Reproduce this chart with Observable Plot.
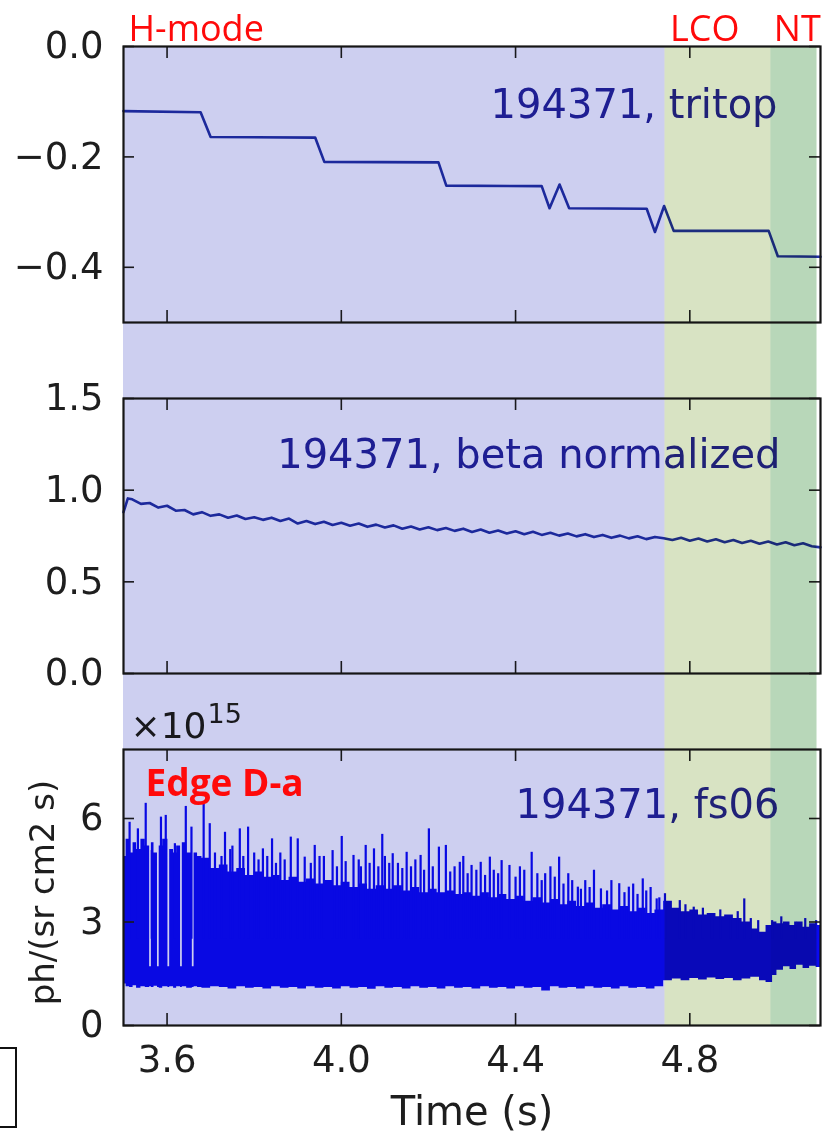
<!DOCTYPE html>
<html>
<head>
<meta charset="utf-8">
<script src="https://cdn.jsdelivr.net/npm/d3@7"></script>
<script src="https://cdn.jsdelivr.net/npm/@observablehq/plot@0.6"></script>
<style>
  html, body { margin: 0; padding: 0; background: #fff; overflow: hidden; }
  #chart { position: relative; width: 826px; height: 1135px; overflow: hidden; }
  #chart svg { position: absolute; left: 0; }
  #box { position: absolute; left: -2px; top: 1047px; width: 15px; height: 77px; border: 2px solid #111; }
</style>
</head>
<body>
<div id="chart"><div id="box"></div></div>
<script>
// ---------------- data ----------------
const xDomain = [3.5, 5.1];
const xTicks = [3.6, 4.0, 4.4, 4.8];

const regionNames = ["H-mode", "LCO", "NT"];
const regionStart = [3.5, 4.743, 4.986];
const regionEnd = [4.743, 4.986, 5.092];
const regionColors = ["#cdcff0", "#d8e3c3", "#b8d7b9"];

// panel 1: tritop
const tritopTicks = [0, -0.2, -0.4];
const tritopTime  = [3.50, 3.677, 3.700, 3.940, 3.961, 4.223, 4.241, 4.460, 4.478, 4.501, 4.523, 4.701, 4.720, 4.741, 4.763, 4.981, 5.002, 5.100];
const tritopValue = [-0.117, -0.119, -0.164, -0.165, -0.209, -0.210, -0.252, -0.253, -0.293, -0.250, -0.293, -0.294, -0.336, -0.289, -0.334, -0.334, -0.380, -0.381];

// panel 2: beta normalized
const betaTicks = [0, 0.5, 1.0, 1.5];
const betaTime = [3.50, 3.51, 3.52, 3.54, 3.56, 3.58, 3.60, 3.62, 3.64, 3.66, 3.68, 3.70, 3.72, 3.74, 3.76, 3.78, 3.80, 3.82, 3.84, 3.86, 3.88, 3.90, 3.92, 3.94, 3.96, 3.98, 4.00, 4.02, 4.04, 4.06, 4.08, 4.10, 4.12, 4.14, 4.16, 4.18, 4.20, 4.22, 4.24, 4.26, 4.28, 4.30, 4.32, 4.34, 4.36, 4.38, 4.40, 4.42, 4.44, 4.46, 4.48, 4.50, 4.52, 4.54, 4.56, 4.58, 4.60, 4.62, 4.64, 4.66, 4.68, 4.70, 4.72, 4.74, 4.76, 4.78, 4.80, 4.82, 4.84, 4.86, 4.88, 4.90, 4.92, 4.94, 4.96, 4.98, 5.00, 5.02, 5.04, 5.06, 5.08, 5.10];
const betaValue = [0.880, 0.955, 0.950, 0.925, 0.930, 0.905, 0.915, 0.888, 0.892, 0.868, 0.880, 0.860, 0.868, 0.850, 0.862, 0.843, 0.852, 0.838, 0.850, 0.832, 0.845, 0.818, 0.832, 0.815, 0.828, 0.810, 0.822, 0.806, 0.818, 0.800, 0.812, 0.796, 0.808, 0.790, 0.802, 0.786, 0.798, 0.782, 0.794, 0.778, 0.790, 0.772, 0.785, 0.768, 0.780, 0.764, 0.776, 0.760, 0.773, 0.756, 0.768, 0.752, 0.764, 0.748, 0.760, 0.744, 0.756, 0.740, 0.752, 0.737, 0.749, 0.733, 0.745, 0.738, 0.728, 0.740, 0.724, 0.736, 0.720, 0.732, 0.716, 0.728, 0.712, 0.724, 0.708, 0.720, 0.704, 0.716, 0.700, 0.710, 0.694, 0.688];

// panel 3: fs06 (units of 1e15), dense band + spikes
const fsTicks = [0, 3, 6];
const fsTime = [3.500, 3.506, 3.514, 3.522, 3.530, 3.540, 3.550, 3.560, 3.564, 3.570, 3.578, 3.582, 3.590, 3.602, 3.606, 3.615, 3.622, 3.631, 3.635, 3.645, 3.658, 3.662, 3.670, 3.680, 3.700, 3.720, 3.740, 3.760, 3.780, 3.800, 3.820, 3.840, 3.860, 3.880, 3.900, 3.920, 3.940, 3.960, 3.980, 4.000, 4.020, 4.040, 4.060, 4.080, 4.100, 4.120, 4.140, 4.160, 4.180, 4.200, 4.220, 4.240, 4.260, 4.280, 4.300, 4.320, 4.340, 4.360, 4.380, 4.400, 4.420, 4.440, 4.460, 4.480, 4.500, 4.520, 4.540, 4.560, 4.580, 4.600, 4.620, 4.640, 4.660, 4.680, 4.700, 4.720, 4.740, 4.760, 4.780, 4.800, 4.820, 4.840, 4.860, 4.880, 4.900, 4.920, 4.940, 4.960, 4.975, 4.990, 5.000, 5.015, 5.030, 5.045, 5.060, 5.075, 5.090, 5.100];
const fsLow  = [1.20, 1.12, 1.10, 1.15, 1.08, 1.12, 1.10, 1.12, 1.10, 1.14, 1.10, 1.08, 1.12, 1.10, 1.12, 1.08, 1.12, 1.10, 1.12, 1.08, 1.10, 1.12, 1.10, 1.08, 1.12, 1.10, 1.06, 1.12, 1.08, 1.10, 1.06, 1.12, 1.08, 1.10, 1.06, 1.12, 1.08, 1.10, 1.06, 1.12, 1.08, 1.10, 1.05, 1.12, 1.08, 1.10, 1.06, 1.12, 1.08, 1.10, 1.06, 1.12, 1.08, 1.10, 1.06, 1.12, 1.08, 1.10, 1.06, 1.12, 1.08, 1.10, 1.00, 1.12, 1.08, 1.10, 1.06, 1.12, 1.08, 1.10, 1.06, 1.12, 1.08, 1.10, 1.06, 1.12, 1.30, 1.35, 1.30, 1.36, 1.32, 1.38, 1.33, 1.36, 1.30, 1.35, 1.40, 1.30, 1.25, 1.45, 1.60, 1.70, 1.62, 1.75, 1.65, 1.72, 1.68, 1.68];
const fsHigh = [4.90, 5.40, 5.00, 5.30, 5.10, 5.40, 5.20, 1.70, 5.30, 5.00, 1.70, 5.20, 5.40, 1.70, 5.10, 5.00, 5.20, 1.70, 5.30, 5.00, 1.70, 5.00, 4.90, 4.85, 4.55, 4.65, 4.45, 4.55, 4.35, 4.45, 4.30, 4.35, 4.20, 4.30, 4.15, 4.25, 4.10, 4.20, 4.05, 4.15, 4.00, 4.10, 3.95, 4.05, 3.95, 4.05, 3.90, 4.00, 3.85, 3.95, 3.85, 3.90, 3.80, 3.85, 3.75, 3.85, 3.70, 3.80, 3.65, 3.75, 3.60, 3.70, 3.55, 3.65, 3.50, 3.60, 3.45, 3.55, 3.40, 3.50, 3.35, 3.45, 3.30, 3.40, 3.25, 3.35, 3.60, 3.40, 3.30, 3.35, 3.20, 3.25, 3.15, 3.20, 3.10, 3.00, 2.80, 2.70, 2.90, 3.00, 2.95, 3.00, 2.90, 3.00, 2.85, 2.95, 2.90, 2.90];
const spikeTime = [3.514, 3.533, 3.551, 3.565, 3.586, 3.597, 3.618, 3.643, 3.656, 3.684, 3.698, 3.733, 3.750, 3.767, 3.786, 3.800, 3.820, 3.841, 3.860, 3.884, 3.900, 3.916, 3.939, 3.960, 3.980, 4.001, 4.028, 4.040, 4.056, 4.075, 4.094, 4.100, 4.118, 4.130, 4.150, 4.170, 4.182, 4.201, 4.224, 4.240, 4.260, 4.272, 4.280, 4.299, 4.320, 4.341, 4.350, 4.368, 4.386, 4.410, 4.437, 4.450, 4.468, 4.480, 4.500, 4.521, 4.543, 4.560, 4.580, 4.596, 4.620, 4.638, 4.660, 4.670, 4.692, 4.710, 4.724, 4.743, 4.777, 4.809, 4.851, 4.894, 4.925, 4.957, 4.989, 5.042, 5.090,
  3.710, 3.725, 3.745, 3.775, 3.810, 3.830, 3.850, 3.870, 3.930, 3.950, 3.990, 4.010, 4.045, 4.065, 4.085, 4.110, 4.140, 4.160, 4.190, 4.210, 4.250, 4.290, 4.310, 4.330, 4.360, 4.400, 4.420, 4.460, 4.490, 4.510, 4.530, 4.550, 4.570, 4.610, 4.650, 4.680, 4.700, 4.730, 4.790, 4.830, 4.870, 4.910, 4.940, 5.010, 5.065];
const spikePeak = [5.89, 5.70, 6.44, 5.07, 6.04, 6.09, 5.27, 6.35, 5.75, 6.41, 5.85, 5.60, 5.20, 5.70, 5.75, 5.00, 5.12, 5.41, 5.00, 5.46, 5.41, 4.88, 5.22, 4.90, 5.07, 5.48, 4.93, 4.80, 5.22, 5.12, 5.54, 4.90, 4.98, 4.70, 5.02, 4.80, 4.93, 5.70, 5.17, 5.22, 4.60, 4.73, 4.90, 4.64, 4.73, 4.88, 4.50, 4.78, 4.64, 4.60, 5.02, 4.40, 4.40, 4.60, 4.88, 4.40, 4.01, 4.20, 4.50, 3.96, 4.20, 4.11, 4.01, 4.10, 4.25, 4.00, 3.67, 3.82, 3.62, 3.43, 3.24, 3.14, 3.67, 3.04, 3.04, 3.00, 3.04,
  5.00, 4.90, 5.10, 4.90, 4.80, 4.90, 4.70, 4.80, 4.70, 4.90, 4.60, 4.75, 4.60, 4.70, 4.60, 4.70, 4.55, 4.60, 4.50, 4.60, 4.45, 4.40, 4.50, 4.35, 4.40, 4.30, 4.50, 4.20, 4.30, 4.10, 4.20, 3.95, 4.00, 3.90, 3.85, 3.80, 3.90, 3.70, 3.50, 3.40, 3.35, 3.30, 3.10, 3.15, 3.10];

// ---------------- drawing ----------------
const W = 826, ML = 123, MR = 6, FW = W - ML - MR;
const INK = "#1e1e1e";
const FONT = "'DejaVu Sans', sans-serif";
const fmt1 = d3.format(".1f");

function panel({top, mt, mb, fh, yDomain, yTicks, yFormat, dataMarks, extraMarks, extendUp, extendDown, xAxis}) {
  const span = yDomain[1] - yDomain[0];
  const up = extendUp ? span * mt / fh : 0;
  const down = extendDown ? span * mb / fh : 0;
  const tY = span * 12 / fh;
  const tX = (xDomain[1] - xDomain[0]) * 11 / FW;
  const overlays = regionNames.map((n, i) => Plot.rect([{x1: regionStart[i], x2: regionEnd[i], y1: yDomain[0] - down, y2: yDomain[1] + up}],
    {x1: "x1", x2: "x2", y1: "y1", y2: "y2", fill: regionColors[i], mixBlendMode: "multiply"}));
  const svg = Plot.plot({
    width: W, height: mt + fh + mb,
    marginLeft: ML, marginRight: MR, marginTop: mt, marginBottom: mb,
    style: {fontFamily: FONT, fontSize: "37px", color: INK, background: "transparent", overflow: "visible"},
    x: {domain: xDomain, label: null, ...(xAxis ? {} : {axis: null})},
    y: {domain: yDomain, label: null},
    marks: [
      ...dataMarks,
      Plot.ruleX(xTicks, {x: d => d, y1: () => yDomain[0], y2: () => yDomain[0] + tY, stroke: INK, strokeWidth: 1.6}),
      Plot.ruleX(xTicks, {x: d => d, y1: () => yDomain[1], y2: () => yDomain[1] - tY, stroke: INK, strokeWidth: 1.6}),
      Plot.ruleY(yTicks, {y: d => d, x1: () => xDomain[0], x2: () => xDomain[0] + tX, stroke: INK, strokeWidth: 1.6}),
      Plot.ruleY(yTicks, {y: d => d, x1: () => xDomain[1], x2: () => xDomain[1] - tX, stroke: INK, strokeWidth: 1.6}),
      ...overlays,
      Plot.frame({stroke: "#151515", strokeWidth: 2.2}),
      Plot.axisY({ticks: yTicks, tickSize: 0, tickPadding: 20, tickFormat: yFormat, label: null}),
      ...(xAxis ? [Plot.axisX({ticks: xTicks, tickSize: 0, tickPadding: 20, tickFormat: fmt1, label: null})] : []),
      ...extraMarks
    ]
  });
  svg.style.top = top + "px";
  return svg;
}

const annot = (txt, dx, dy) => Plot.text([txt], {text: d => d, frameAnchor: "top-right", textAnchor: "end", lineAnchor: "bottom",
  dx, dy, fontSize: 40, fill: "#25259c", fontFamily: FONT});

const tritopData = tritopTime.map((t, i) => ({t, v: tritopValue[i]}));
const betaData = betaTime.map((t, i) => ({t, v: betaValue[i]}));
const fsData = fsTime.map((t, i) => ({t, lo: fsLow[i], hi: fsHigh[i]}));
const spikeData = spikeTime.map((t, i) => ({t, p: spikePeak[i]}));

const labelFont = "'Open Sans', 'Lato', sans-serif";
const chart = document.getElementById("chart");

chart.appendChild(panel({
  top: 0, mt: 46, mb: 38, fh: 276, yDomain: [-0.5, 0], yTicks: tritopTicks, yFormat: fmt1,
  extendUp: false, extendDown: true, xAxis: false,
  dataMarks: [
    annot("194371, tritop", -43, 71),
    Plot.line(tritopData, {x: "t", y: "v", stroke: "#2232a6", strokeWidth: 2.6})
  ],
  extraMarks: regionNames.map((n, i) => Plot.text([n], {text: d => d, x: () => regionStart[i], frameAnchor: "top",
    textAnchor: "start", lineAnchor: "bottom", dx: [5, 5, 3][i], dy: -6, fontSize: 36, fill: "#ff0a0a", fontFamily: labelFont}))
}));

chart.appendChild(panel({
  top: 360, mt: 38, mb: 38, fh: 275, yDomain: [0, 1.5], yTicks: betaTicks, yFormat: fmt1,
  extendUp: true, extendDown: true, xAxis: false,
  dataMarks: [
    annot("194371, beta normalized", -40, 69),
    Plot.line(betaData, {x: "t", y: "v", stroke: "#2232a6", strokeWidth: 2.6})
  ],
  extraMarks: []
}));

chart.appendChild(panel({
  top: 711, mt: 38, mb: 110, fh: 276, yDomain: [0, 8], yTicks: fsTicks, yFormat: d3.format("d"),
  extendUp: true, extendDown: false, xAxis: true,
  dataMarks: [
    annot("194371, fs06", -41, 68),
    Plot.areaY(fsData, {x: "t", y1: "lo", y2: "hi", fill: "#0a0af2", curve: "step-after"}),
    Plot.ruleX(spikeData, {x: "t", y1: () => 2.5, y2: "p", stroke: "#0a0af2", strokeWidth: 2.2}),
    Plot.text(["×10"], {text: d => d, frameAnchor: "top-left", textAnchor: "start", lineAnchor: "bottom", dx: 7, dy: -12, fontSize: 36, fill: INK}),
    Plot.text(["15"], {text: d => d, frameAnchor: "top-left", textAnchor: "start", lineAnchor: "bottom", dx: 84, dy: -27, fontSize: 27, fill: INK})
  ],
  extraMarks: [
    Plot.text(["Edge D-a"], {text: d => d, frameAnchor: "top-left", textAnchor: "start", lineAnchor: "bottom", dx: 22, dy: 46,
      fontSize: 37, fontWeight: "bold", fill: "#ff0a0a", fontFamily: labelFont}),
    Plot.text(["ph/(sr cm2 s)"], {text: d => d, frameAnchor: "left", rotate: -90, textAnchor: "middle", lineAnchor: "bottom",
      dx: -70, dy: 5, fontSize: 34, fill: INK}),
    Plot.text(["Time (s)"], {text: d => d, frameAnchor: "bottom", textAnchor: "middle", lineAnchor: "bottom", dy: 99, fontSize: 40, fill: INK})
  ]
}));
</script>
</body>
</html>
